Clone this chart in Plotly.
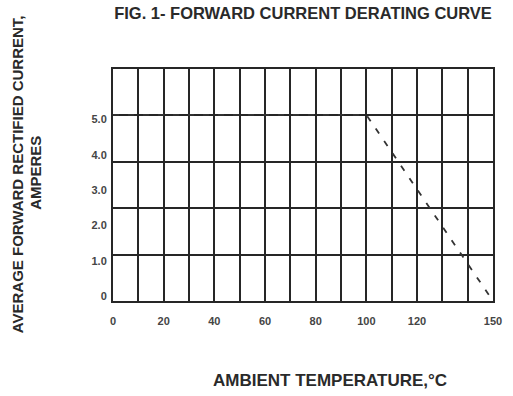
import plotly.graph_objects as go

# Data
temperature_c = [0, 100, 150]
current_a = [5.27, 5.27, 0.0]

x_tick_vals = [0, 10, 20, 30, 40, 50, 60, 70, 80, 90, 100, 110, 120, 130, 140, 150]
x_tick_text = ["0", "", "20", "", "40", "", "60", "", "80", "", "100", "", "120", "", "", "150"]
y_tick_vals = [0, 1, 2, 3, 4, 5]
y_tick_text = ["0", "1.0", "2.0", "3.0", "4.0", "5.0"]
grid_divisions = [0, 1, 2, 3, 4, 5]

W, H = 513, 396
L, R, T, B = 113, 11, 69, 95

fig = go.Figure()
fig.add_trace(go.Scatter(
    x=temperature_c, y=current_a, mode="lines",
    line=dict(color="#333333", width=1.8, dash="6px,9px"),
    showlegend=False, hoverinfo="skip",
))
# empty trace so the grid axis is drawn
fig.add_trace(go.Scatter(x=[], y=[], yaxis="y2", showlegend=False))

tick_font = dict(family="Liberation Sans, Arial, sans-serif", size=11, color="#454545",
                 weight="bold")

fig.update_layout(
    width=W, height=H,
    margin=dict(l=L, r=R, t=T, b=B),
    paper_bgcolor="white", plot_bgcolor="white",
    xaxis=dict(
        range=[0, 150], tickvals=x_tick_vals, ticktext=x_tick_text,
        showgrid=True, gridcolor="#262626", gridwidth=1.5,
        showline=True, mirror=True, linecolor="#262626", linewidth=2,
        zeroline=False, ticks="", tickfont=tick_font, ticklabelstandoff=9,
    ),
    yaxis=dict(
        range=[0, 6.566], tickvals=y_tick_vals, ticktext=y_tick_text,
        showgrid=False, showline=True, mirror=True, linecolor="#262626", linewidth=2,
        zeroline=False, ticks="", tickfont=tick_font, ticklabelshift=-5,
        ticklabelstandoff=2,
    ),
    yaxis2=dict(
        overlaying="y", side="left", range=[0, 5], tickvals=grid_divisions,
        showticklabels=False, showgrid=True, gridcolor="#262626", gridwidth=1.5,
        zeroline=False, showline=False, ticks="",
    ),
    title=dict(
        text="<b>FIG. 1- FORWARD CURRENT DERATING CURVE</b>",
        font=dict(family="Liberation Sans, Arial, sans-serif", size=16.5, color="#2a2a2a"),
        xref="container", yref="container", x=303 / W, y=1 - 13 / H,
        xanchor="center", yanchor="middle",
    ),
)

pw = W - L - R
ph = H - T - B
ytitle_font = dict(family="Liberation Sans, Arial, sans-serif", size=15, color="#2a2a2a")
xtitle_font = dict(family="Liberation Sans, Arial, sans-serif", size=17, color="#2a2a2a")
fig.add_annotation(
    text="<b>AVERAGE FORWARD RECTIFIED CURRENT,</b>", textangle=-90,
    xref="paper", yref="paper", x=(15 - L) / pw, y=(H - B - 174) / ph,
    xanchor="center", yanchor="middle", showarrow=False, font=ytitle_font,
)
fig.add_annotation(
    text="<b>AMPERES</b>", textangle=-90,
    xref="paper", yref="paper", x=(33 - L) / pw, y=(H - B - 173) / ph,
    xanchor="center", yanchor="middle", showarrow=False, font=ytitle_font,
)
fig.add_annotation(
    text="<b>AMBIENT TEMPERATURE,°C</b>",
    xref="paper", yref="paper", x=(335 - L) / pw, y=(H - B - 380) / ph,
    xanchor="center", yanchor="middle", showarrow=False, font=xtitle_font,
)

fig.write_html("out.html")
